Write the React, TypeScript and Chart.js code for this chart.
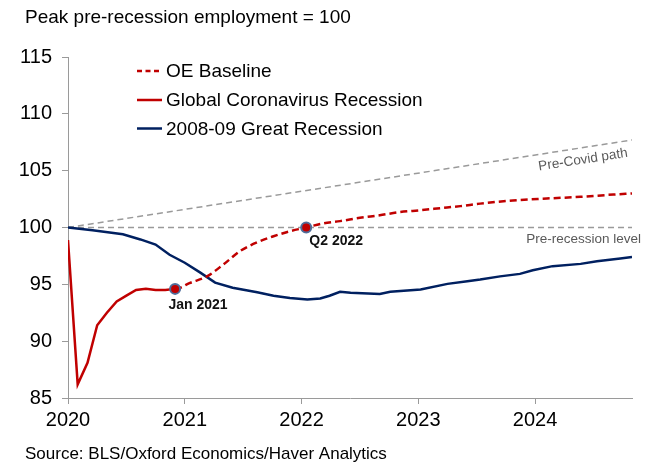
import React, { useEffect, useRef } from "react";
import { Chart, registerables } from "chart.js";

Chart.register(...registerables);

// ---- Data (x in decimal years) ----
const covidYears = [2020.0, 2020.083, 2020.167, 2020.25, 2020.333, 2020.417, 2020.5, 2020.583, 2020.667, 2020.75, 2020.833, 2020.917];
const covidValues = [98.9, 86.2, 88.1, 91.4, 92.5, 93.5, 94.0, 94.5, 94.6, 94.5, 94.5, 94.6];

const baselineYears = [2020.917, 2020.96, 2021.04, 2021.19, 2021.33, 2021.47, 2021.62, 2021.76, 2021.9, 2022.04, 2022.18, 2022.33, 2022.5, 2022.67, 2022.84, 2023.02, 2023.19, 2023.36, 2023.53, 2023.81, 2024.1, 2024.39, 2024.67, 2024.83];
const baselineValues = [94.6, 94.7, 95.1, 95.7, 96.74, 97.9, 98.7, 99.23, 99.67, 100.0, 100.35, 100.56, 100.85, 101.08, 101.35, 101.52, 101.7, 101.88, 102.1, 102.38, 102.55, 102.7, 102.9, 103.0];

const gfcYears = [2020.0, 2020.21, 2020.47, 2020.62, 2020.75, 2020.87, 2021.0, 2021.13, 2021.26, 2021.41, 2021.62, 2021.76, 2021.9, 2022.05, 2022.16, 2022.24, 2022.33, 2022.42, 2022.67, 2022.76, 2023.02, 2023.25, 2023.42, 2023.53, 2023.7, 2023.87, 2023.98, 2024.15, 2024.39, 2024.53, 2024.73, 2024.83];
const gfcValues = [100.0, 99.75, 99.4, 98.95, 98.5, 97.6, 96.9, 96.05, 95.15, 94.7, 94.3, 94.0, 93.8, 93.66, 93.75, 94.0, 94.35, 94.25, 94.16, 94.34, 94.54, 95.04, 95.27, 95.42, 95.7, 95.92, 96.24, 96.6, 96.8, 97.03, 97.27, 97.4];

const preCovidYears = [2020.0, 2024.83];
const preCovidValues = [100, 107.7];
const preRecessionYears = [2020.0, 2024.83];
const preRecessionValues = [100, 100];

const markerYears = [2020.917, 2022.04];
const markerValues = [94.6, 100.0];
const markerLabels = ["Jan 2021", "Q2 2022"];

const xTickYears = [2020, 2021, 2022, 2023, 2024];
const yTickValues = [85, 90, 95, 100, 105, 110, 115];

const seriesNames = ["OE Baseline", "Global Coronavirus Recession", "2008-09 Great Recession"];
const titleText = "Peak pre-recession employment = 100";
const sourceText = "Source: BLS/Oxford Economics/Haver Analytics";
const preCovidLabel = "Pre-Covid path";
const preRecessionLabel = "Pre-recession level";

const RED = "#C00000";
const NAVY = "#002060";
const GREY = "#9A9A9A";
const FONT = "'Liberation Sans', Arial, sans-serif";

const pts = (xs: number[], ys: number[]) => xs.map((x, i) => ({ x, y: ys[i] }));

const textPlugin = {
  id: "textPlugin",
  afterDraw(chart: any) {
    const ctx = chart.ctx as CanvasRenderingContext2D;
    const xs = chart.scales.x;
    const ys = chart.scales.y;
    ctx.save();
    // Title
    ctx.fillStyle = "#000";
    ctx.textBaseline = "middle";
    ctx.textAlign = "left";
    ctx.font = `19px ${FONT}`;
    ctx.fillText(titleText, 25, 18);
    // Source
    ctx.font = `17px ${FONT}`;
    ctx.fillText(sourceText, 25, 454);

    // Legend
    const rows = [71, 100, 128.5];
    const colors = [RED, RED, NAVY];
    const dashes = [[5, 3.5], [], []];
    rows.forEach((ry, i) => {
      ctx.beginPath();
      ctx.strokeStyle = colors[i];
      ctx.lineWidth = 2.5;
      ctx.setLineDash(dashes[i]);
      ctx.moveTo(137, ry);
      ctx.lineTo(162, ry);
      ctx.stroke();
      ctx.setLineDash([]);
      ctx.fillStyle = "#000";
      ctx.font = `19px ${FONT}`;
      ctx.textAlign = "left";
      ctx.fillText(seriesNames[i], 166, ry + 1);
    });

    // Marker labels
    ctx.font = `bold 14px ${FONT}`;
    ctx.fillStyle = "#111";
    ctx.textAlign = "center";
    const m0x = xs.getPixelForValue(markerYears[0]);
    const m0y = ys.getPixelForValue(markerValues[0]);
    ctx.fillText(markerLabels[0], m0x + 23, m0y + 16);
    const m1x = xs.getPixelForValue(markerYears[1]);
    const m1y = ys.getPixelForValue(markerValues[1]);
    ctx.fillText(markerLabels[1], m1x + 30, m1y + 14);

    // Reference line labels
    ctx.fillStyle = "#595959";
    ctx.font = `13.5px ${FONT}`;
    ctx.textAlign = "right";
    const endX = xs.getPixelForValue(preRecessionYears[1]);
    ctx.fillText(preRecessionLabel, endX + 9, ys.getPixelForValue(preRecessionValues[1]) + 11.5);

    const x1 = xs.getPixelForValue(preCovidYears[0]);
    const y1 = ys.getPixelForValue(preCovidValues[0]);
    const x2 = xs.getPixelForValue(preCovidYears[1]);
    const y2 = ys.getPixelForValue(preCovidValues[1]);
    const ang = Math.atan2(y2 - y1, x2 - x1);
    const cx = 581;
    const t = (cx - x1) / (x2 - x1);
    const cy = y1 + t * (y2 - y1);
    ctx.translate(cx + 2, cy + 12);
    ctx.rotate(ang);
    ctx.textAlign = "center";
    ctx.fillText(preCovidLabel, 0, 0);
    ctx.restore();
  },
};

export default function App() {
  const ref = useRef<HTMLCanvasElement | null>(null);
  useEffect(() => {
    if (!ref.current) return;
    const chart = new Chart(ref.current, {
      type: "line",
      data: {
        datasets: [
          {
            label: "markers",
            data: pts(markerYears, markerValues),
            showLine: false,
            pointRadius: 5,
            pointBorderWidth: 2,
            pointBackgroundColor: RED,
            pointBorderColor: "#4F6D9A",
          },
          {
            label: seriesNames[1],
            data: pts(covidYears, covidValues),
            borderColor: RED,
            borderWidth: 2.5,
            pointRadius: 0,
            tension: 0,
          },
          {
            label: seriesNames[0],
            data: pts(baselineYears, baselineValues),
            borderColor: RED,
            borderWidth: 2.5,
            borderDash: [7, 4],
            pointRadius: 0,
            cubicInterpolationMode: "monotone",
          },
          {
            label: seriesNames[2],
            data: pts(gfcYears, gfcValues),
            borderColor: NAVY,
            borderWidth: 2.5,
            pointRadius: 0,
            tension: 0,
          },
          {
            label: "Pre-Covid path",
            data: pts(preCovidYears, preCovidValues),
            borderColor: GREY,
            borderWidth: 1.5,
            borderDash: [6, 4],
            pointRadius: 0,
          },
          {
            label: "Pre-recession level",
            data: pts(preRecessionYears, preRecessionValues),
            borderColor: GREY,
            borderWidth: 1.5,
            borderDash: [6, 4],
            pointRadius: 0,
          },
        ],
      },
      options: {
        animation: false,
        responsive: true,
        maintainAspectRatio: false,
        layout: { padding: { left: 0, top: 57, right: 22, bottom: 0 } },
        plugins: { legend: { display: false }, tooltip: { enabled: false } },
        scales: {
          x: {
            type: "linear",
            min: 2020,
            max: preCovidYears[1],
            afterBuildTicks: (s: any) => {
              s.ticks = xTickYears.map((v) => ({ value: v }));
            },
            afterFit: (s: any) => {
              s.height = 66;
            },
            grid: { drawOnChartArea: false, drawTicks: true, tickLength: 6, color: GREY },
            border: { color: GREY, width: 1 },
            ticks: {
              color: "#000",
              font: { family: FONT, size: 20 },
              padding: 4,
              maxRotation: 0,
              callback: (v: any) => String(v),
            },
          },
          y: {
            type: "linear",
            min: yTickValues[0],
            max: yTickValues[yTickValues.length - 1],
            afterBuildTicks: (s: any) => {
              s.ticks = yTickValues.map((v) => ({ value: v }));
            },
            afterFit: (s: any) => {
              s.width = 68;
            },
            grid: { drawOnChartArea: false, drawTicks: true, tickLength: 6, color: GREY },
            border: { color: GREY, width: 1 },
            ticks: {
              color: "#000",
              font: { family: FONT, size: 20 },
              padding: 10,
            },
          },
        },
      },
      plugins: [textPlugin],
    });
    return () => chart.destroy();
  }, []);
  return (
    <div style={{ position: "absolute", left: 0, top: 0, width: 654, height: 464, background: "#fff" }}>
      <canvas ref={ref} />
    </div>
  );
}
